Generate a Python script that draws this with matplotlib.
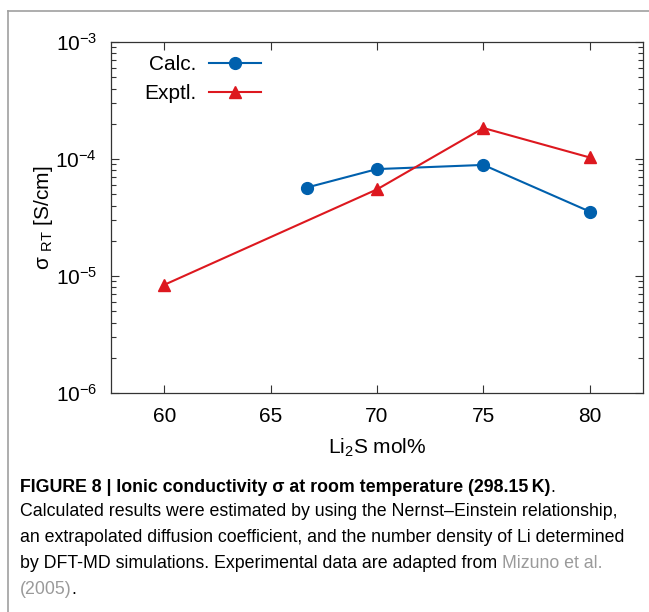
import matplotlib
matplotlib.use("Agg")
import matplotlib.pyplot as plt
from matplotlib.lines import Line2D
import matplotlib.ticker as ticker

plt.rcParams['font.family'] = ['Liberation Sans', 'DejaVu Sans']
plt.rcParams['mathtext.fontset'] = 'custom'
plt.rcParams['mathtext.rm'] = 'Liberation Sans'
plt.rcParams['mathtext.it'] = 'Liberation Sans:italic'
plt.rcParams['mathtext.bf'] = 'Liberation Sans:bold'

# data
calc_x = [66.7, 70, 75, 80]
calc_y = [5.7e-5, 8.2e-5, 8.9e-5, 3.55e-5]
expt_x = [60, 70, 75, 80]
expt_y = [8.4e-6, 5.5e-5, 1.84e-4, 1.03e-4]
x_ticks = [60, 65, 70, 75, 80]

BLUE = '#0060ad'
RED = '#dd181f'

W, H = 649, 612
fig = plt.figure(figsize=(W / 100, H / 100), dpi=100)
ax = fig.add_axes([111 / W, 1 - 393 / H, (643 - 111) / W, (393 - 42) / H])

ax.plot(calc_x, calc_y, '-o', color=BLUE, lw=1.5, ms=8.5, label='Calc.')
ax.plot(expt_x, expt_y, '-^', color=RED, lw=1.5, ms=8.5, label='Exptl.')

ax.set_yscale('log')
ax.set_ylim(1e-6, 1e-3)
ax.set_xlim(57.5, 82.5)
ax.set_xticks(x_ticks)
ax.xaxis.set_minor_locator(ticker.NullLocator())
ax.yaxis.set_major_locator(ticker.LogLocator(base=10, numticks=10))
ax.yaxis.set_minor_locator(ticker.LogLocator(base=10, subs=range(2, 10), numticks=10))
ax.yaxis.set_minor_formatter(ticker.NullFormatter())
ax.tick_params(which='both', direction='in', top=True, right=True,
               labelsize=15, width=0.8, color='#333333')
ax.tick_params(which='major', length=6, pad=10)
ax.tick_params(which='minor', length=3.5)
for s in ax.spines.values():
    s.set_linewidth(0.9)
    s.set_color('#333333')

ax.set_xlabel('Li$_2$S mol%', fontsize=15, labelpad=8)
ax.set_ylabel('\u03c3 $_{\\rm RT}$ [S/cm]', fontsize=15, labelpad=0)

ax.legend(loc='upper left', bbox_to_anchor=(0.062, 0.963), frameon=False,
          markerfirst=False, fontsize=15, handlelength=2.5, handletextpad=0.6,
          labelspacing=0.5, borderpad=0, borderaxespad=0)

# frame around the figure panel
fig.add_artist(Line2D([8 / W, 1], [1 - 11 / H, 1 - 11 / H], color='#a0a0a0', lw=1.2))
fig.add_artist(Line2D([8 / W, 8 / W], [0, 1 - 11 / H], color='#a0a0a0', lw=1.2))

# caption, drawn piece by piece
cap_size = 12.8
GRAY = '#9a9a9a'
caption = [
    [('FIGURE 8 | Ionic conductivity \u03c3 at room temperature (298.15\u2009K)', 'bold', 'black'),
     ('.', 'normal', 'black')],
    [('Calculated results were estimated by using the Nernst\u2013Einstein relationship,', 'normal', 'black')],
    [('an extrapolated diffusion coefficient, and the number density of Li determined', 'normal', 'black')],
    [('by DFT-MD simulations. Experimental data are adapted from ', 'normal', 'black'),
     ('Mizuno et al.', 'normal', GRAY)],
    [('(2005)', 'normal', GRAY), ('.', 'normal', 'black')],
]
line_y = [487, 512, 538, 563, 589]

renderer = fig.canvas.get_renderer()
for pieces, yy in zip(caption, line_y):
    x = 20
    for txt, wt, col in pieces:
        t = fig.text(x / W, 1 - yy / H, txt, fontsize=cap_size, fontweight=wt,
                     color=col, va='center', ha='left',
                     family=['Liberation Sans', 'DejaVu Sans'])
        bb = t.get_window_extent(renderer)
        x += bb.width

fig.savefig('out.png', dpi=100)
